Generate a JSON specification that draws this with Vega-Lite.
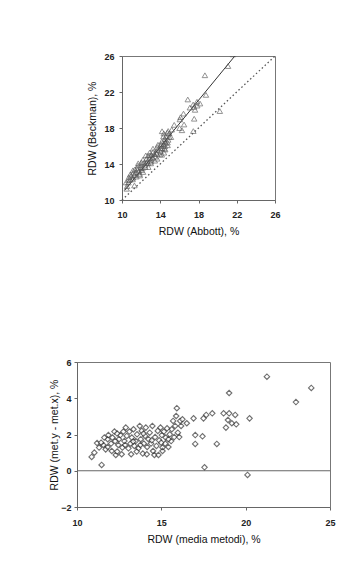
{
  "$schema": "https://vega.github.io/schema/vega-lite/v6.json",
  "background": "white",
  "padding": {"left": 49, "top": 51, "right": 5, "bottom": 5},
  "data": {"values": [
    {"a":10.49,"b":11.25,"m":10.87,"d":0.76},{"a":10.53,"b":11.53,"m":11.03,"d":1.00},{"a":10.42,"b":11.95,"m":11.19,"d":1.53},{"a":10.67,"b":11.94,"m":11.31,"d":1.28},
    {"a":10.85,"b":12.27,"m":11.56,"d":1.42},{"a":11.11,"b":12.29,"m":11.70,"d":1.18},{"a":10.95,"b":12.69,"m":11.82,"d":1.74},{"a":10.87,"b":12.85,"m":11.86,"d":1.97},
    {"a":11.27,"b":12.77,"m":12.02,"d":1.50},{"a":11.18,"b":13.01,"m":12.10,"d":1.83},{"a":11.14,"b":13.30,"m":12.22,"d":2.16},{"a":11.86,"b":12.73,"m":12.30,"d":0.87},
    {"a":11.85,"b":12.90,"m":12.38,"d":1.06},{"a":11.74,"b":13.17,"m":12.45,"d":1.42},{"a":11.63,"b":13.36,"m":12.49,"d":1.74},{"a":11.59,"b":13.56,"m":12.57,"d":1.97},
    {"a":12.05,"b":13.33,"m":12.69,"d":1.28},{"a":11.99,"b":13.63,"m":12.81,"d":1.64},{"a":11.70,"b":14.08,"m":12.89,"d":2.38},{"a":11.99,"b":13.91,"m":12.95,"d":1.92},
    {"a":12.43,"b":13.67,"m":13.05,"d":1.24},{"a":12.03,"b":14.19,"m":13.11,"d":2.16},{"a":12.42,"b":13.91,"m":13.17,"d":1.50},{"a":12.33,"b":14.16,"m":13.25,"d":1.83},
    {"a":12.20,"b":14.49,"m":13.35,"d":2.29},{"a":12.72,"b":14.09,"m":13.40,"d":1.37},{"a":12.66,"b":14.30,"m":13.48,"d":1.64},{"a":12.56,"b":14.57,"m":13.56,"d":2.01},
    {"a":13.02,"b":14.26,"m":13.64,"d":1.24},{"a":12.49,"b":14.96,"m":13.72,"d":2.47},{"a":12.91,"b":14.65,"m":13.78,"d":1.74},{"a":12.74,"b":14.94,"m":13.84,"d":2.20},
    {"a":13.43,"b":14.37,"m":13.90,"d":0.95},{"a":13.21,"b":14.71,"m":13.96,"d":1.50},{"a":13.08,"b":15.00,"m":14.04,"d":1.92},{"a":12.89,"b":15.27,"m":14.08,"d":2.38},
    {"a":13.50,"b":14.81,"m":14.16,"d":1.31},{"a":13.37,"b":15.10,"m":14.24,"d":1.74},{"a":13.26,"b":15.37,"m":14.31,"d":2.10},{"a":13.65,"b":15.14,"m":14.39,"d":1.50},
    {"a":13.24,"b":15.71,"m":14.47,"d":2.47},{"a":13.97,"b":15.06,"m":14.51,"d":1.09},{"a":14.16,"b":15.03,"m":14.59,"d":0.87},{"a":13.70,"b":15.56,"m":14.63,"d":1.86},
    {"a":14.03,"b":15.39,"m":14.71,"d":1.37},{"a":13.69,"b":15.89,"m":14.79,"d":2.20},{"a":14.03,"b":15.71,"m":14.87,"d":1.68},{"a":13.76,"b":16.14,"m":14.95,"d":2.38},
    {"a":14.04,"b":16.01,"m":15.03,"d":1.97},{"a":14.43,"b":15.70,"m":15.07,"d":1.28},{"a":14.07,"b":16.22,"m":15.15,"d":2.16},{"a":14.48,"b":15.97,"m":15.23,"d":1.50},
    {"a":14.35,"b":16.18,"m":15.26,"d":1.83},{"a":14.17,"b":16.51,"m":15.34,"d":2.34},{"a":14.77,"b":16.08,"m":15.42,"d":1.31},{"a":14.50,"b":16.51,"m":15.50,"d":2.01},
    {"a":14.76,"b":16.40,"m":15.58,"d":1.64},{"a":14.48,"b":16.76,"m":15.62,"d":2.29},{"a":14.33,"b":17.07,"m":15.70,"d":2.75},{"a":14.83,"b":16.69,"m":15.76,"d":1.86},
    {"a":14.58,"b":17.05,"m":15.82,"d":2.47},{"a":14.37,"b":17.39,"m":15.88,"d":3.02},{"a":14.19,"b":17.64,"m":15.92,"d":3.45},{"a":14.93,"b":17.03,"m":15.98,"d":2.10},
    {"a":15.12,"b":16.99,"m":16.06,"d":1.86},{"a":14.74,"b":17.49,"m":16.12,"d":2.75},{"a":14.94,"b":17.41,"m":16.17,"d":2.47},{"a":14.83,"b":17.67,"m":16.25,"d":2.84},
    {"a":15.20,"b":17.82,"m":16.51,"d":2.62},{"a":15.46,"b":18.35,"m":16.91,"d":2.89},{"a":11.16,"b":12.48,"m":11.82,"d":1.31},{"a":11.51,"b":12.60,"m":12.06,"d":1.09},
    {"a":12.20,"b":13.11,"m":12.65,"d":0.91},{"a":12.75,"b":13.66,"m":13.21,"d":0.91},{"a":13.01,"b":14.07,"m":13.54,"d":1.06},{"a":13.68,"b":14.59,"m":14.14,"d":0.91},
    {"a":14.39,"b":15.26,"m":14.83,"d":0.87},{"a":14.52,"b":15.61,"m":15.07,"d":1.09},{"a":10.65,"b":12.20,"m":11.43,"d":1.55},{"a":10.71,"b":12.54,"m":11.62,"d":1.83},
    {"a":11.35,"b":13.40,"m":12.38,"d":2.05},{"a":11.67,"b":13.83,"m":12.75,"d":2.16},{"a":12.91,"b":14.96,"m":13.94,"d":2.05},{"a":14.21,"b":15.76,"m":14.99,"d":1.55},
    {"a":14.55,"b":16.29,"m":15.42,"d":1.74},{"a":13.59,"b":15.27,"m":14.43,"d":1.68},{"a":13.05,"b":14.47,"m":13.76,"d":1.42},{"a":12.52,"b":14.13,"m":13.33,"d":1.61},
    {"a":12.14,"b":13.56,"m":12.85,"d":1.42},{"a":11.43,"b":13.08,"m":12.26,"d":1.64},{"a":11.30,"b":11.62,"m":11.46,"d":0.32},{"a":16.02,"b":17.99,"m":17.01,"d":1.97},
    {"a":16.49,"b":18.39,"m":17.44,"d":1.90},{"a":16.27,"b":17.75,"m":17.01,"d":1.48},{"a":17.55,"b":19.03,"m":18.29,"d":1.48},{"a":17.46,"b":17.66,"m":17.56,"d":0.19},
    {"a":16.05,"b":18.95,"m":17.50,"d":2.89},{"a":16.12,"b":19.20,"m":17.66,"d":3.08},{"a":16.43,"b":19.60,"m":18.02,"d":3.17},{"a":17.10,"b":20.27,"m":18.69,"d":3.17},
    {"a":17.44,"b":20.61,"m":19.02,"d":3.17},{"a":17.84,"b":20.92,"m":19.38,"d":3.08},{"a":17.54,"b":20.35,"m":18.95,"d":2.80},{"a":17.87,"b":20.49,"m":19.18,"d":2.62},
    {"a":17.64,"b":20.02,"m":18.83,"d":2.38},{"a":18.16,"b":20.72,"m":19.44,"d":2.56},{"a":16.88,"b":21.17,"m":19.02,"d":4.29},{"a":18.78,"b":21.68,"m":20.23,"d":2.89},
    {"a":20.23,"b":19.88,"m":20.11,"d":-0.23},{"a":18.67,"b":23.86,"m":21.26,"d":5.19},{"a":21.09,"b":24.88,"m":22.98,"d":3.79},{"a":21.61,"b":26.18,"m":23.89,"d":4.57}
  ]},
  "vconcat": [
    {
      "hconcat": [
        {
          "width": 10,
          "height": 10,
          "data": {"values": []},
          "mark": "point",
          "encoding": {},
          "view": {"stroke": null}
        },
        {
          "width": 153,
          "height": 144,
          "layer": [
            {
              "data": {"values": [{"a": 10, "b": 10}, {"a": 26, "b": 26}]},
              "mark": {"type": "line", "color": "#555", "strokeWidth": 1.3, "strokeDash": [1.5, 2.5]},
              "encoding": {
                "x": {"field": "a", "type": "quantitative"},
                "y": {"field": "b", "type": "quantitative"}
              }
            },
            {
              "data": {"values": [{"a": 10.3, "b": 11.1}, {"a": 21.8, "b": 26}]},
              "mark": {"type": "line", "color": "#333", "strokeWidth": 1},
              "encoding": {
                "x": {"field": "a", "type": "quantitative"},
                "y": {"field": "b", "type": "quantitative"}
              }
            },
            {
              "mark": {"type": "point", "shape": "triangle-up", "filled": false, "stroke": "#555", "strokeWidth": 0.9, "size": 30, "clip": true},
              "encoding": {
                "x": {"field": "a", "type": "quantitative",
                  "scale": {"domain": [10, 26], "nice": false, "zero": false},
                  "axis": {"values": [10, 14, 18, 22, 26], "tickCount": 10, "title": "RDW (Abbott), %", "labelPadding": 7, "titlePadding": 7}},
                "y": {"field": "b", "type": "quantitative",
                  "scale": {"domain": [10, 26], "nice": false, "zero": false},
                  "axis": {"values": [10, 14, 18, 22, 26], "tickCount": 10, "title": "RDW (Beckman), %", "labelPadding": 5, "titlePadding": 6}}
              }
            }
          ]
        }
      ],
      "spacing": 0
    },
    {
      "width": 253,
      "height": 145,
      "layer": [
        {
          "data": {"values": [{}]},
          "mark": {"type": "rule", "color": "#666", "strokeWidth": 1},
          "encoding": {"y": {"datum": 0, "type": "quantitative"}}
        },
        {
          "mark": {"type": "point", "shape": "diamond", "filled": true, "fill": "white", "stroke": "#333", "strokeWidth": 1.1, "size": 30},
          "encoding": {
            "x": {"field": "m", "type": "quantitative",
              "scale": {"domain": [10, 25], "nice": false, "zero": false},
              "axis": {"values": [10, 15, 20, 25], "tickCount": 10, "title": "RDW (media metodi), %", "labelPadding": 8, "titlePadding": 7}},
            "y": {"field": "d", "type": "quantitative",
              "scale": {"domain": [-2, 6], "nice": false, "zero": false},
              "axis": {"values": [-2, 0, 2, 4, 6], "tickCount": 10, "title": "RDW (met.y - met.x), %", "labelPadding": 3, "titlePadding": 1}}
          }
        }
      ]
    }
  ],
  "spacing": 120,
  "config": {
    "font": "Liberation Sans",
    "view": {"stroke": "#777", "strokeWidth": 1},
    "axis": {
      "grid": false,
      "domainColor": "#666",
      "tickColor": "#666",
      "tickSize": 3,
      "labelFont": "Liberation Sans",
      "labelFontSize": 9,
      "labelFontWeight": "bold",
      "labelColor": "#222",
      "labelFlush": false,
      "labelOverlap": false,
      "titleFont": "Liberation Sans",
      "titleFontSize": 10.5,
      "titleFontWeight": "normal",
      "titleColor": "#111"
    }
  }
}
